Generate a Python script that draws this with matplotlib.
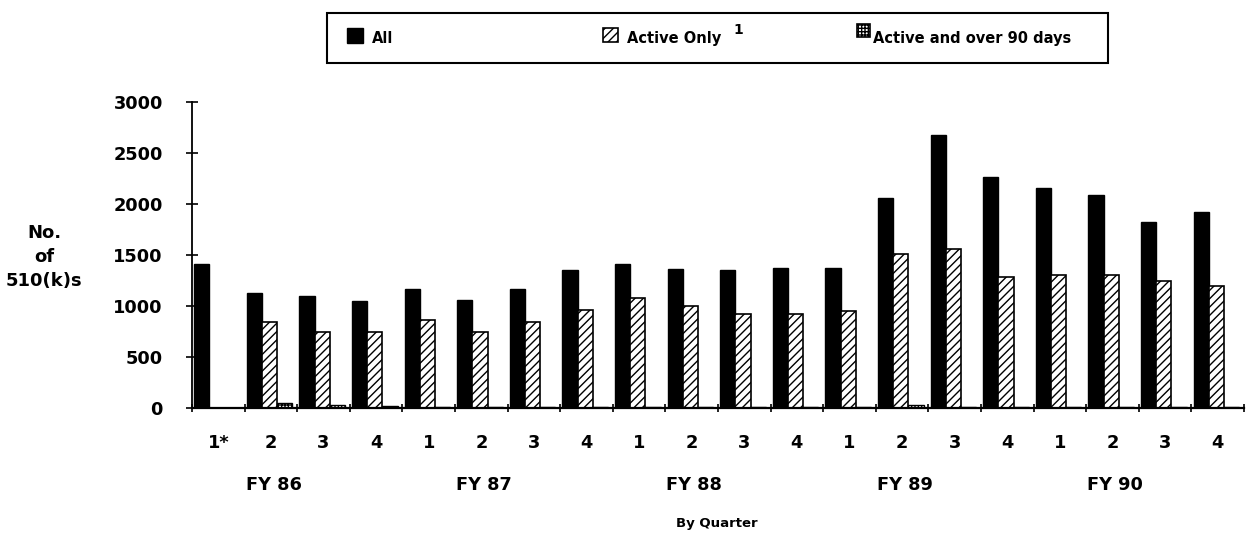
import matplotlib
matplotlib.use("Agg")
import matplotlib.pyplot as plt
import numpy as np
from matplotlib.patches import Rectangle

# Quarterly 510(k) counts, FY 86 - FY 90
quarters = ["1*", "2", "3", "4",
            "1", "2", "3", "4",
            "1", "2", "3", "4",
            "1", "2", "3", "4",
            "1", "2", "3", "4"]
fiscal_years = ["FY 86", "FY 87", "FY 88", "FY 89", "FY 90"]
all_510k = [1415, 1130, 1095, 1050, 1170, 1055, 1170, 1355, 1415, 1365,
            1355, 1375, 1375, 2055, 2680, 2265, 2160, 2085, 1825, 1925]
active_only = [0, 845, 750, 750, 865, 745, 840, 960, 1075, 1000,
               925, 925, 955, 1505, 1555, 1280, 1305, 1300, 1245, 1200]
active_over_90 = [0, 45, 25, 15, 10, 10, 10, 10, 10, 10,
                  10, 10, 10, 25, 10, 10, 10, 10, 10, 10]
y_ticks = [0, 500, 1000, 1500, 2000, 2500, 3000]

plt.rcParams["font.family"] = ["DejaVu Sans"]
plt.rcParams["font.weight"] = "bold"
plt.rcParams["hatch.linewidth"] = 1.0

W, H = 1246, 539
fig = plt.figure(figsize=(W / 100, H / 100), dpi=100)


def fx(px):
    return px / W


def fy(py):
    return 1 - py / H


ax = fig.add_axes([fx(192), fy(408), fx(1244) - fx(192), fy(102) - fy(408)])

x = np.arange(len(quarters))
bw = 0.29
ax.bar(x + 0.04, all_510k, bw, align="edge", color="black", edgecolor="black", lw=1.0)
ax.bar(x + 0.04 + bw, active_only, bw, align="edge", facecolor="white",
       edgecolor="black", hatch="////", lw=1.2)
ax.bar(x + 0.04 + 2 * bw, active_over_90, bw, align="edge", facecolor="white",
       edgecolor="black", hatch="+++++", lw=1.0)

ax.set_xlim(0, len(quarters))
ax.set_ylim(0, 3000)

for s in ("top", "right"):
    ax.spines[s].set_visible(False)
ax.spines["left"].set_linewidth(1.3)
ax.spines["bottom"].set_linewidth(1.6)

ax.set_yticks(y_ticks)
ax.set_yticklabels([str(v) for v in y_ticks], fontsize=12.8, fontweight="bold")
ax.tick_params(axis="y", direction="inout", length=8, width=1.2, pad=17)

ax.set_xticks(x + 0.5)
ax.set_xticklabels(quarters, fontsize=12.8, fontweight="bold")
ax.set_xticks(np.arange(len(quarters) + 1), minor=True)
ax.tick_params(axis="x", which="major", length=0, pad=19)
ax.tick_params(axis="x", which="minor", direction="inout", length=6, width=1.2)

for i, fy_lbl in enumerate(fiscal_years):
    ax.annotate(fy_lbl, xy=(i * 4 + 1.55, 0), xycoords=("data", "axes fraction"),
                xytext=(0, -59), textcoords="offset points",
                ha="center", va="baseline", fontsize=12.8, fontweight="bold")

fig.text(fx(717), fy(527), "By Quarter", ha="center", va="baseline",
         fontsize=9.5, fontweight="bold")
fig.text(fx(44), fy(257), "No.\nof\n510(k)s", ha="center", va="center",
         multialignment="center", fontsize=13, fontweight="bold", linespacing=1.4)

# Legend box
fig.patches.append(Rectangle((fx(327), fy(63)), fx(1108) - fx(327), fy(13) - fy(63),
                             transform=fig.transFigure, fill=False,
                             edgecolor="black", lw=1.5))
fig.patches.append(Rectangle((fx(347), fy(43)), fx(363) - fx(347), fy(28) - fy(43),
                             transform=fig.transFigure, facecolor="black",
                             edgecolor="black"))
fig.patches.append(Rectangle((fx(603), fy(42)), fx(618) - fx(603), fy(28) - fy(42),
                             transform=fig.transFigure, facecolor="white",
                             edgecolor="black", hatch="////", lw=1.2))
fig.patches.append(Rectangle((fx(857), fy(37)), fx(870) - fx(857), fy(24) - fy(37),
                             transform=fig.transFigure, facecolor="white",
                             edgecolor="black", hatch="+++++", lw=1.2))
fig.text(fx(372), fy(43), "All", ha="left", va="baseline", fontsize=10.5, fontweight="bold")
fig.text(fx(627), fy(43), "Active Only", ha="left", va="baseline", fontsize=10.5,
         fontweight="bold")
fig.text(fx(733), fy(34), "1", ha="left", va="baseline", fontsize=10, fontweight="bold")
fig.text(fx(873), fy(43), "Active and over 90 days", ha="left", va="baseline",
         fontsize=10.5, fontweight="bold")

fig.savefig("out.png", dpi=100, facecolor="white")
